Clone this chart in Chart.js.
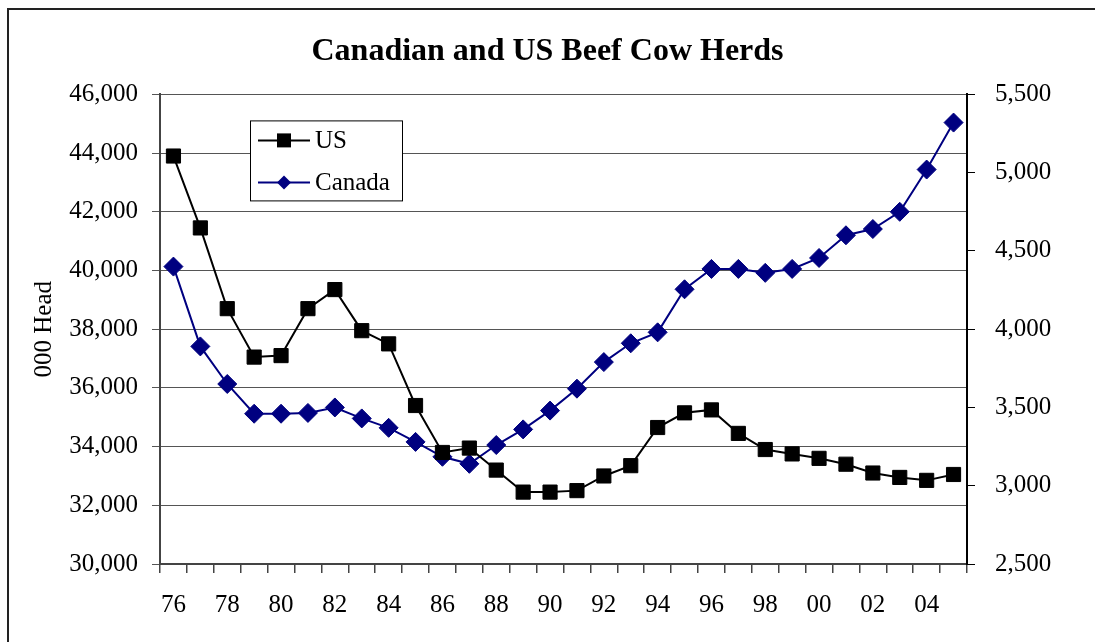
<!DOCTYPE html>
<html>
<head>
<meta charset="utf-8">
<script src="https://cdn.jsdelivr.net/npm/chart.js@4"></script>
<style>
  body { margin: 0; background: #fff; }
  #wrap { width: 1095px; height: 642px; }
</style>
</head>
<body>
<div id="wrap"><canvas id="myChart" width="1095" height="642"></canvas></div>
<script>
const years = ["76", "77", "78", "79", "80", "81", "82", "83", "84", "85",
    "86", "87", "88", "89", "90", "91", "92", "93", "94", "95",
    "96", "97", "98", "99", "00", "01", "02", "03", "04", "05"];
// thousand head, left axis
const usHerd = [43900, 41450, 38700, 37050, 37100, 38700, 39350, 37950, 37500, 35400,
    33800, 33950, 33200, 32450, 32450, 32500, 33000, 33350, 34650, 35150,
    35250, 34450, 33900, 33750, 33600, 33400, 33100, 32950, 32850, 33050];
// thousand head, right axis
const canadaHerd = [4400, 3890, 3650, 3460, 3460, 3465, 3500, 3430, 3370, 3280,
    3185, 3140, 3260, 3360, 3480, 3620, 3790, 3910, 3980, 4255,
    4385, 4385, 4360, 4385, 4455, 4600, 4640, 4750, 5020, 5320];
const leftRange = [30000, 46000, 2000];
const rightRange = [2500, 5500, 500];
const serie = ["US", "Canada"];

const fuente = "'Liberation Serif', 'Times New Roman', serif";
let grapharea = document.getElementById("myChart").getContext("2d");

// outer frame of the chart
const marco = {
    id: "marco",
    beforeDraw(chart) {
        const ctx = chart.ctx;
        ctx.save();
        ctx.fillStyle = "#fff";
        ctx.fillRect(0, 0, chart.width, chart.height);
        ctx.strokeStyle = "#222";
        ctx.lineWidth = 2;
        ctx.strokeRect(8, 9, chart.width + 20, chart.height + 20);
        ctx.restore();
    }
};

// legend box sitting inside the plot area
const leyenda = {
    id: "leyenda",
    afterDraw(chart) {
        const ctx = chart.ctx;
        const area = chart.chartArea;
        const x = area.left + 90;
        const y = area.top + 26;
        ctx.save();
        ctx.fillStyle = "#fff";
        ctx.fillRect(x, y, 152, 80);
        ctx.strokeStyle = "#000";
        ctx.lineWidth = 1;
        ctx.strokeRect(x + 0.5, y + 0.5, 152, 80);
        ctx.font = "25px " + fuente;
        ctx.textBaseline = "middle";
        chart.data.datasets.forEach((ds, i) => {
            const fy = y + 20 + i * 42;
            ctx.strokeStyle = ds.borderColor;
            ctx.lineWidth = 2;
            ctx.beginPath();
            ctx.moveTo(x + 8, fy);
            ctx.lineTo(x + 60, fy);
            ctx.stroke();
            ctx.fillStyle = ds.pointBackgroundColor;
            ctx.beginPath();
            if (ds.pointStyle === "rect") {
                ctx.rect(x + 27, fy - 7, 14, 14);
            } else {
                ctx.moveTo(x + 34 - 7, fy);
                ctx.lineTo(x + 34, fy - 7);
                ctx.lineTo(x + 34 + 7, fy);
                ctx.lineTo(x + 34, fy + 7);
                ctx.closePath();
            }
            ctx.fill();
            ctx.fillStyle = "#000";
            ctx.fillText(ds.label, x + 65, fy + 1);
        });
        ctx.restore();
    }
};

const data = {
    labels: years,
    datasets: [
        {
            label: serie[0],
            data: usHerd,
            yAxisID: "y",
            borderColor: "#000",
            borderWidth: 2,
            pointStyle: "rect",
            pointRadius: 10,
            pointBackgroundColor: "#000",
            pointBorderColor: "#000",
            pointBorderWidth: 1,
            tension: 0,
        },
        {
            label: serie[1],
            data: canadaHerd,
            yAxisID: "y1",
            borderColor: "#000080",
            borderWidth: 2,
            pointStyle: "rectRot",
            pointRadius: 9.5,
            pointBackgroundColor: "#000080",
            pointBorderColor: "#000080",
            pointBorderWidth: 1,
            tension: 0,
        },
    ],
};

const config = {
    type: "line",
    data: data,
    options: {
        responsive: false,
        animation: false,
        layout: { padding: 0 },
        plugins: {
            legend: { display: false },
            tooltip: { enabled: false },
            title: {
                display: true,
                text: "Canadian and US Beef Cow Herds",
                color: "#000",
                font: { family: fuente, size: 32, weight: "bold" },
                padding: { top: 33, bottom: 23 },
            },
        },
        scales: {
            x: {
                offset: true,
                grid: {
                    display: true,
                    drawOnChartArea: false,
                    offset: true,
                    tickLength: 9,
                    color: "#444",
                    lineWidth: 1.5,
                },
                border: { color: "#444", width: 2 },
                ticks: {
                    autoSkip: false,
                    maxRotation: 0,
                    padding: 17,
                    color: "#000",
                    font: { family: fuente, size: 25 },
                    callback: (val, i) => (i % 2 === 0 ? years[i] : ""),
                },
                afterFit: (scale) => { scale.height = 78; },
            },
            y: {
                position: "left",
                min: leftRange[0],
                max: leftRange[1],
                ticks: {
                    stepSize: leftRange[2],
                    padding: 14,
                    color: "#000",
                    font: { family: fuente, size: 25 },
                    callback: (v) => v.toLocaleString("en-US"),
                },
                grid: { color: "#555", lineWidth: 1, tickLength: 8 },
                border: { color: "#444", width: 2 },
                title: {
                    display: true,
                    text: "000 Head",
                    color: "#000",
                    font: { family: fuente, size: 25 },
                    padding: { top: 29, bottom: 0 },
                },
                afterFit: (scale) => { scale.width = 160; },
            },
            y1: {
                position: "right",
                min: rightRange[0],
                max: rightRange[1],
                ticks: {
                    stepSize: rightRange[2],
                    padding: 20,
                    color: "#000",
                    font: { family: fuente, size: 25 },
                    callback: (v) => v.toLocaleString("en-US"),
                },
                grid: { drawOnChartArea: false, color: "#000", tickLength: 8 },
                border: { color: "#000", width: 2 },
                afterFit: (scale) => { scale.width = 128; },
            },
        },
    },
    plugins: [marco, leyenda],
};

let myChart = new Chart(grapharea, config);
</script>
</body>
</html>
